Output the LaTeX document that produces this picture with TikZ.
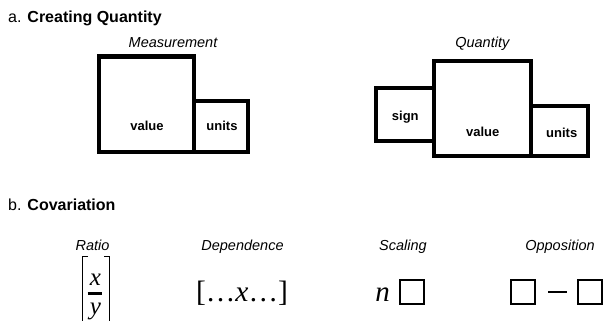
\documentclass[tikz,border=0pt]{standalone}
\usepackage{fontspec}
\setmainfont{Liberation Sans}
\newfontfamily\timesf{Liberation Serif}
\begin{document}
\begin{tikzpicture}[x=1pt,y=-1pt,
  heavybox/.style={draw=black, line width=4.2pt, inner sep=0pt, outer sep=0pt},
  boxlab/.style={font=\fontsize{13}{15}\selectfont\bfseries, inner sep=0pt, anchor=base},
  caplab/.style={font=\fontsize{14.5}{17}\selectfont\itshape, inner sep=0pt, anchor=base},
  heading/.style={font=\fontsize{16}{19}\selectfont, inner sep=0pt, anchor=base west},
  mathsym/.style={font=\fontsize{29}{33}\selectfont\timesf\itshape, inner sep=0pt},
  fracsym/.style={font=\fontsize{25}{29}\selectfont\timesf\itshape, inner sep=0pt},
  thinbox/.style={draw=black, line width=2pt, minimum width=24pt, minimum height=24pt, inner sep=0pt},
  brk/.style={line width=1.6pt},
  fracbar/.style={line width=3pt},
  minusbar/.style={line width=2pt}]
\useasboundingbox (0,0) rectangle (603,321);
\clip (0,0) rectangle (603,321);

% ---------- a. Creating Quantity ----------
\node[heading] (ta) at (8,23) {a. \textbf{Creating Quantity}};

\node[caplab] (meas) at (173,47.7) {Measurement};
\node[heavybox, minimum width=94.8pt, minimum height=95.3pt] (mval) at (146.6,104.2) {};
\node[heavybox, minimum width=54pt, minimum height=51pt] (munit) at (221,126.3) {};
\node[boxlab] (mvallab) at (147,131) {value};
\node[boxlab] (munitlab) at (222,131) {units};

\node[caplab] (quant) at (482.3,47.5) {Quantity};
\node[heavybox, minimum width=57.7pt, minimum height=52.7pt] (qsign) at (405.2,114.4) {};
\node[heavybox, minimum width=97.3pt, minimum height=94.9pt] (qval) at (482.7,108.2) {};
\node[heavybox, minimum width=56.7pt, minimum height=49.4pt] (qunit) at (559.7,131) {};
\node[boxlab] (qsignlab) at (405.3,120.5) {sign};
\node[boxlab] (qvallab) at (482.7,136.7) {value};
\node[boxlab] (qunitlab) at (561.7,137.3) {units};

% ---------- b. Covariation ----------
\node[heading] (tb) at (8,210.7) {b. \textbf{Covariation}};

\node[caplab] (ratio) at (92.5,250) {Ratio};
\node[caplab] (dep) at (242.5,250) {Dependence};
\node[caplab] (scal) at (403,250) {Scaling};
\node[caplab] (opp) at (560,250) {Opposition};

% Ratio
\draw[brk] (88,256.5) -- (82.5,256.5) -- (82.5,330);
\draw[brk] (104,256.5) -- (109.5,256.5) -- (109.5,330);
\node[fracsym] (num) at (95.5,280) {x};
\draw[fracbar] (87.5,293) -- (102,293);
\node[fracsym] (den) at (95.5,311.5) {y};

% Dependence
\node[mathsym, anchor=base, font=\fontsize{29.5}{33}\selectfont\timesf] (depexpr) at (242,301) {[\ldots\textit{x}\ldots]};

% Scaling
\node[mathsym, anchor=base] (nsym) at (382.5,301) {n};
\node[thinbox] (sbox) at (412,292) {};

% Opposition
\node[thinbox] (obox1) at (523.3,292) {};
\draw[minusbar] (548,292) -- (566.7,292);
\node[thinbox] (obox2) at (589.5,292) {};
\end{tikzpicture}
\end{document}
